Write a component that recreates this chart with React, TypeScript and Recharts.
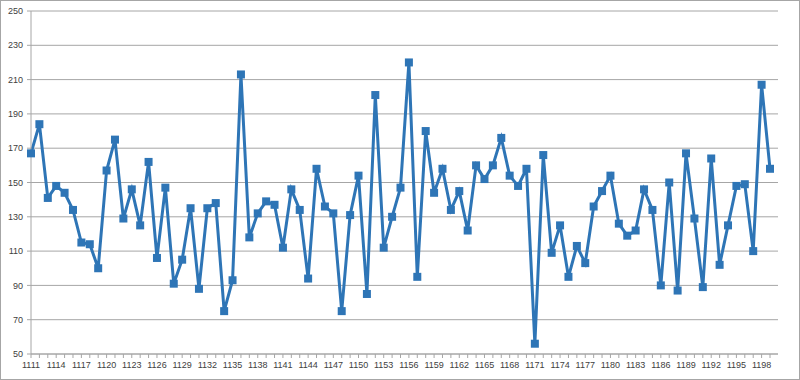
import { LineChart, Line, XAxis, YAxis, CartesianGrid } from "recharts";

const START_YEAR = 1111;

const values = [
  167, 184, 141, 148, 144, 134, 115, 114, 100, 157,
  175, 129, 146, 125, 162, 106, 147, 91, 105, 135,
  88, 135, 138, 75, 93, 213, 118, 132, 139, 137,
  112, 146, 134, 94, 158, 136, 132, 75, 131, 154,
  85, 201, 112, 130, 147, 220, 95, 180, 144, 158,
  134, 145, 122, 160, 152, 160, 176, 154, 148, 158,
  56, 166, 109, 125, 95, 113, 103, 136, 145, 154,
  126, 119, 122, 146, 134, 90, 150, 87, 167, 129,
  89, 164, 102, 125, 148, 149, 110, 207, 158,
];

const categories = values.map((_, i) => String(START_YEAR + i));

const yTicks = [50, 70, 90, 110, 130, 150, 170, 190, 210, 230, 250];

const data = categories.map((label, i) => ({ label, value: values[i] }));

const BLUE = "#2e75b6";
const AXIS_GRAY = "#a6a6a6";
const LABEL_COLOR = "#404040";
const FONT = "'Liberation Sans', 'DejaVu Sans', sans-serif";

function SquareDot(props: any) {
  const { cx, cy, index } = props;
  if (cx == null || cy == null) return null;
  return (
    <rect
      key={`dot-${index}`}
      x={cx - 4}
      y={cy - 4}
      width={8}
      height={8}
      fill={BLUE}
    />
  );
}

function XTick(props: any) {
  const { x, y, payload, index } = props;
  if (index % 3 !== 0) return null;
  return (
    <text
      x={x}
      y={y}
      dy="0.71em"
      textAnchor="middle"
      fill={LABEL_COLOR}
      fontSize={9}
      fontFamily={FONT}
    >
      {payload.value}
    </text>
  );
}

export default function App() {
  return (
    <div
      style={{
        position: "absolute",
        left: 0,
        top: 0,
        width: 798,
        height: 378,
        border: `1px solid ${AXIS_GRAY}`,
        background: "#fff",
      }}
    >
      <LineChart
        width={798}
        height={378}
        data={data}
        margin={{ top: 10, right: 21, bottom: 5, left: 0 }}
      >
        <CartesianGrid vertical={false} stroke={AXIS_GRAY} strokeWidth={1} />
        <XAxis
          dataKey="label"
          interval={0}
          padding={{ left: 0, right: 8 }}
          height={20}
          tickSize={4}
          tickMargin={4}
          stroke={AXIS_GRAY}
          tick={<XTick />}
        />
        <YAxis
          domain={[50, 250]}
          ticks={yTicks}
          width={30}
          tickSize={4}
          tickMargin={4}
          stroke={AXIS_GRAY}
          tick={{ fill: LABEL_COLOR, fontSize: 9, fontFamily: FONT }}
        />
        <Line
          type="linear"
          dataKey="value"
          stroke={BLUE}
          strokeWidth={3}
          dot={<SquareDot />}
          isAnimationActive={false}
        />
      </LineChart>
    </div>
  );
}
